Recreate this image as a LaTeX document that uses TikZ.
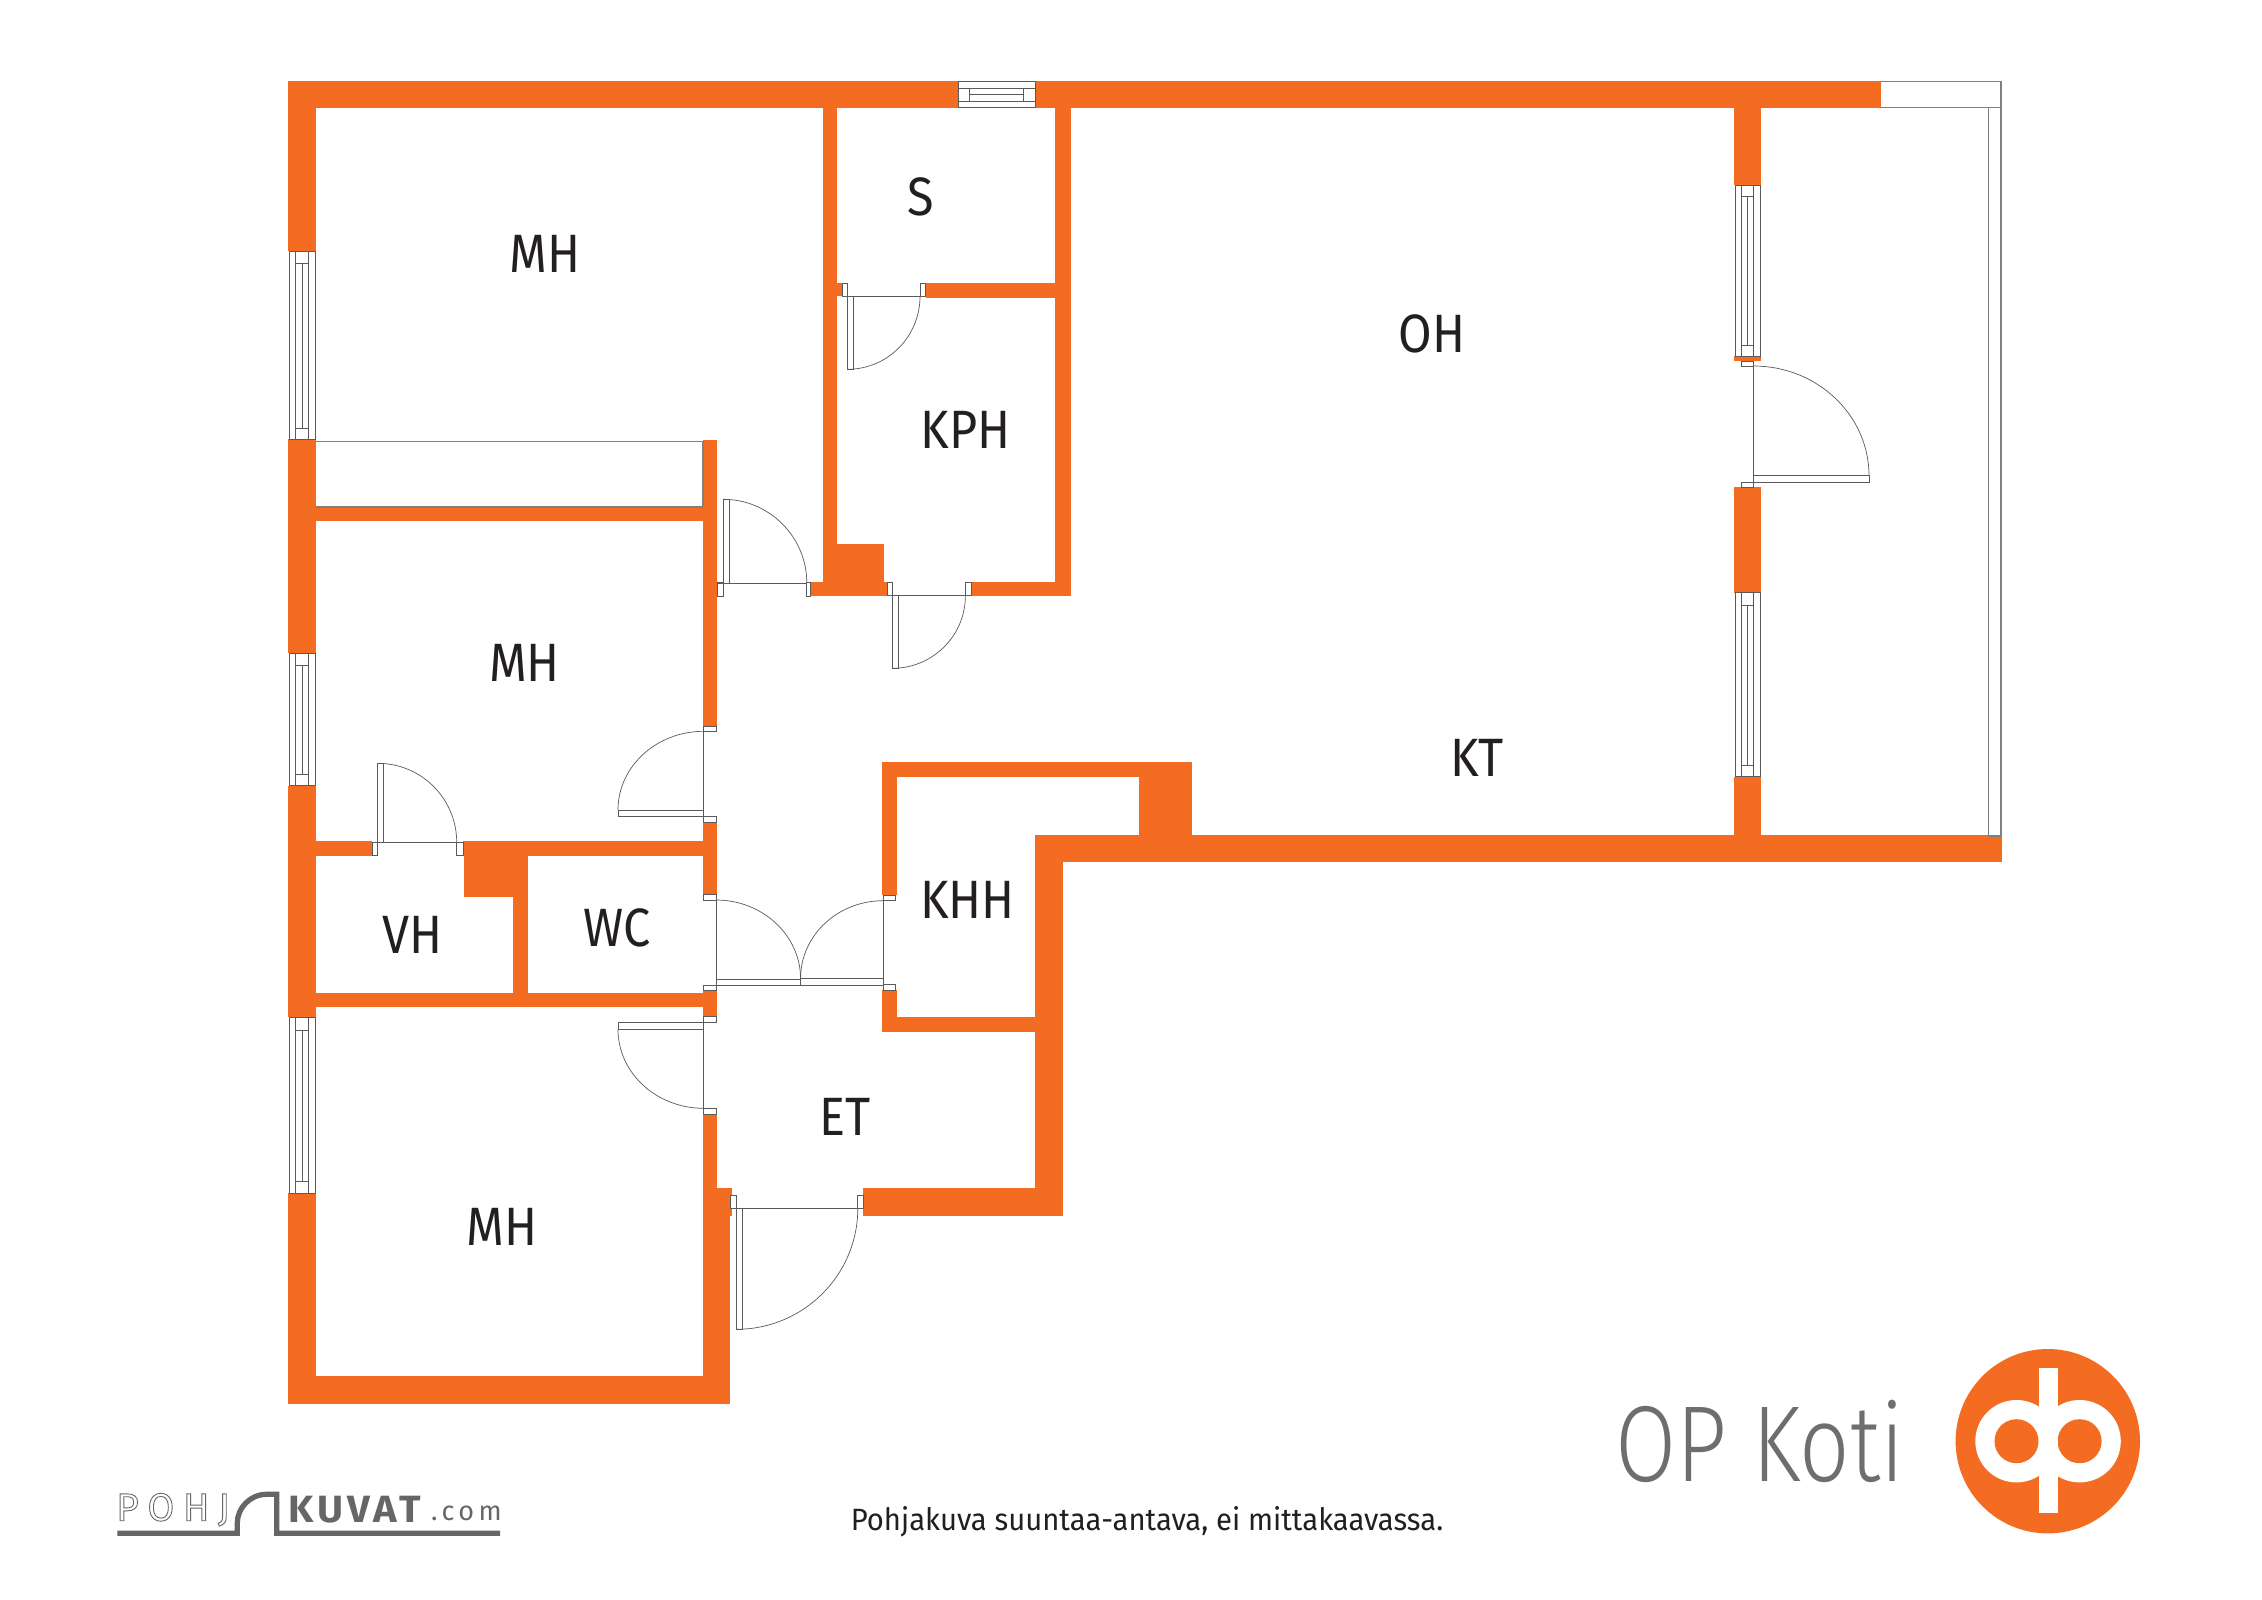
\documentclass[tikz,border=0pt]{standalone}
\usepackage{fontspec}
\usetikzlibrary{calc}
\setmainfont{Fira Sans}
\newfontfamily\labelf[FakeStretch=0.9]{Fira Sans}
\newfontfamily\foot[FakeStretch=0.95]{Fira Sans}
\newfontfamily\opf[FakeStretch=0.82]{Fira Sans Light}
\newfontfamily\pkb{Fira Sans}[FakeStretch=1.05]
\definecolor{wallorange}{HTML}{F36C21}
\definecolor{linegray}{HTML}{5A5A5A}
\definecolor{railgray}{HTML}{808080}
\definecolor{inkdark}{HTML}{231F20}
\definecolor{logogray}{HTML}{6D6E70}
\definecolor{pkgray}{HTML}{666666}
\tikzset{
  wallpart/.style={fill=wallorange,draw=none},
  fineline/.style={draw=linegray,line width=0.7pt},
  framebox/.style={draw=linegray,line width=0.7pt,fill=white},
  railline/.style={draw=railgray,line width=1.1pt},
  roomlabel/.style={text=inkdark,inner sep=0pt,font=\labelf\fontsize{54}{54}\selectfont},
}
\newcommand{\wallrect}[4]{\fill[wallpart] (#1,#2) rectangle (#3,#4);}
\newcommand{\framerect}[4]{\path[framebox] (#1,#2) rectangle (#3,#4);}
\newcommand{\fineseg}[4]{\draw[fineline] (#1,#2) -- (#3,#4);}
% swing arc from a to b, with corner c
\newcommand{\swing}[6]{\draw[fineline] (#1,#2) .. controls ($(#1,#2)!0.5523!(#5,#6)$) and ($(#3,#4)!0.5523!(#5,#6)$) .. (#3,#4);}
% vertical window: x1 x2 y1 y2 inner x1, inner x2, mid, yi1, yi2
\newcommand{\vwin}[9]{\path[framebox] (#1,#3) rectangle (#2,#4);
  \draw[fineline] (#5,#3) -- (#5,#4) (#6,#3) -- (#6,#4) (#7,#8) -- (#7,#9) (#5,#8) -- (#6,#8) (#5,#9) -- (#6,#9);}
\begin{document}
\begin{tikzpicture}[x=1pt,y=-1pt]
\useasboundingbox (0,0) rectangle (2262,1600);
\fill[white] (0,0) rectangle (2262,1600);

% ---- outer and inner walls
\wallrect{288}{80.7}{958}{108.2}
\wallrect{1035}{80.7}{1881}{108.2}
\wallrect{288}{80.7}{316}{251}
\wallrect{288}{439.3}{316}{653.3}
\wallrect{288}{785.7}{316}{1017.3}
\wallrect{288}{1193.3}{316}{1404}
\wallrect{288}{1375.7}{730.2}{1404}
\wallrect{702.7}{1188.3}{730.2}{1404}
\wallrect{730}{1188.3}{731.7}{1216}
\wallrect{702.7}{1114}{717}{1190}
% MH/S wall, lump
\wallrect{822.6}{108}{837.3}{283}
\wallrect{822.6}{283}{842}{296.4}
\wallrect{822.6}{296}{837.3}{590}
\wallrect{822.6}{544}{883.8}{590}
\wallrect{810.8}{582}{887.3}{596.4}
\wallrect{971}{582}{1071}{596.4}
\wallrect{1055}{108}{1071}{596.4}
\wallrect{925.6}{282.5}{1060}{297.5}
% corridor wall
\wallrect{702.7}{440.4}{717}{726}
\wallrect{702.7}{822}{717}{894.7}
\wallrect{702.7}{990.7}{717}{1016.7}
% closet bottom wall
\wallrect{316}{507}{703}{521.4}
% MH / VH wall
\wallrect{316}{841}{372}{856.3}
\wallrect{462.9}{841}{703}{856.3}
\wallrect{463.9}{856}{528}{896.7}
\wallrect{512.9}{856}{528}{993}
\wallrect{316}{992.7}{703}{1007.3}
% KHH
\wallrect{882}{761.7}{1192.3}{776.7}
\wallrect{882}{761.7}{896.5}{894.7}
\wallrect{882}{990}{896.5}{1031.7}
\wallrect{882}{1016.7}{1040}{1031.7}
\wallrect{1035.3}{835}{1063.4}{1216}
\wallrect{862.9}{1188.3}{1063.4}{1216}
\wallrect{1035.3}{835}{2002}{862.3}
\wallrect{1139}{761.7}{1192.3}{836}
% living-room east wall
\wallrect{1733.7}{81}{1761.3}{185}
\wallrect{1733.7}{356}{1761.3}{361}
\wallrect{1733.7}{487.3}{1761.3}{592.7}
\wallrect{1733.7}{776.7}{1761.3}{836}

% ---- windows
\vwin{289}{315}{251}{439.3}{295.5}{308.3}{301.9}{262.9}{427.9}
\vwin{289}{315}{653.3}{785.7}{295.5}{308.3}{301.9}{665.7}{774}
\vwin{289}{315}{1017.3}{1193.3}{295.5}{308.3}{301.9}{1030}{1181.7}
\vwin{1735}{1760}{185}{356}{1741.5}{1753.5}{1747.5}{196.7}{345}
\vwin{1735}{1760}{592.7}{776.7}{1741.5}{1753.5}{1747.5}{605}{765}
% top window
\path[framebox] (958,81.5) rectangle (1035,107.5);
\draw[fineline] (958,88.6) -- (1035,88.6) (958,101) -- (1035,101) (969,94) -- (1023,94) (969,88.6) -- (969,101) (1023,88.6) -- (1023,101);

% ---- closet and balcony outlines
\draw[draw=railgray,line width=1.2pt] (316,441.4) -- (703,441.4) (316,507) -- (703,507) (703,441.4) -- (703,507);
\draw[railline] (1881,81.7) -- (2001,81.7) -- (2001,107.3) -- (1881,107.3);
\draw[railline] (1988.5,107.3) -- (1988.5,836) -- (2001,836) -- (2001,107.3);

% ---- doors
% S / KPH
\framerect{842}{283}{847.5}{296.4}
\framerect{920}{283}{925.6}{296.4}
\fineseg{842}{296.4}{925.6}{296.4}
\framerect{847.5}{296.4}{853.7}{369.3}
\swing{847.5}{369.3}{920}{296.4}{920}{369.3}
% MH 1
\framerect{717}{582}{723}{596.4}
\framerect{806.8}{582}{810.8}{596.4}
\fineseg{717}{583}{806.8}{583}
\framerect{723}{499.3}{729}{583}
\swing{723}{499.3}{806.8}{583}{806.8}{499.3}
% KPH
\framerect{887.3}{582}{892.4}{595.7}
\framerect{965.4}{582}{971}{595.7}
\fineseg{887.3}{595.7}{971}{595.7}
\framerect{892.4}{595.7}{898.6}{668.3}
\swing{892.4}{668.3}{965.4}{595.7}{965.4}{668.3}
% MH 2
\framerect{703.7}{726}{716}{731.3}
\framerect{703.7}{816.7}{716}{822}
\fineseg{703.7}{731.3}{703.7}{816.7}
\framerect{618}{810}{703.7}{816.7}
\swing{618}{810}{703.7}{731.3}{618}{731.3}
% VH
\framerect{372}{842.3}{377.7}{855.7}
\framerect{456.7}{842.3}{462.9}{855.7}
\fineseg{372}{842.3}{462.9}{842.3}
\framerect{377.7}{763.3}{383.8}{842.3}
\swing{377.7}{763.3}{456.7}{842.3}{456.7}{763.3}
% double doors
\framerect{703.7}{894.7}{716}{900}
\framerect{703.7}{985}{716}{990.7}
\fineseg{716}{900}{716}{985}
\framerect{716}{979}{800.6}{985.7}
\swing{716}{900}{800.6}{979}{800.6}{900}
\framerect{883.3}{895.3}{895.5}{900.7}
\framerect{883.3}{984.3}{895.5}{990}
\fineseg{883.3}{900.7}{883.3}{985}
\framerect{800.6}{978.3}{883.3}{985}
\swing{883.3}{900.7}{800.6}{978.3}{800.6}{900.7}
% MH 3
\framerect{703.7}{1016.7}{716}{1022.3}
\framerect{703.7}{1108.3}{716}{1114}
\fineseg{703.7}{1022.3}{703.7}{1108.3}
\framerect{618}{1022.3}{703.7}{1029.3}
\swing{618}{1029.3}{703.7}{1108.3}{618}{1108.3}
% entrance
\framerect{730.2}{1195.7}{736.3}{1208.3}
\framerect{857.8}{1195.7}{862.9}{1208.3}
\fineseg{730.2}{1208.3}{862.9}{1208.3}
\framerect{736.3}{1208.3}{742.4}{1329.3}
\swing{736.3}{1329.3}{857.8}{1208.3}{857.8}{1329.3}
% balcony
\framerect{1741.5}{361}{1753.5}{366}
\framerect{1741.5}{482.3}{1753.5}{487.3}
\fineseg{1753.5}{366}{1753.5}{475.7}
\framerect{1753.5}{475.7}{1869}{482.3}
\swing{1753.5}{366}{1869}{475.7}{1869}{366}

% ---- room labels
\node[roomlabel] (mha) at (545,254) {MH};
\node[roomlabel] (ss) at (921,197) {S};
\node[roomlabel] (kph) at (965.5,430) {KPH};
\node[roomlabel] (mhb) at (524.5,662.5) {MH};
\node[roomlabel] (vh) at (412.5,935) {VH};
\node[roomlabel] (wc) at (617.5,928) {WC};
\node[roomlabel] (khh) at (967.5,900) {KHH};
\node[roomlabel] (mhc) at (502,1227) {MH};
\node[roomlabel] (et) at (845,1117) {ET};
\node[roomlabel] (oh) at (1432,334) {OH};
\node[roomlabel] (kt) at (1477,758) {KT};

% ---- footer
\node[text=inkdark,inner sep=0pt,font=\foot\fontsize{30.8}{31}\selectfont] (note) at (1147,1522) {Pohjakuva suuntaa-antava, ei mittakaavassa.};
\node[text=logogray,inner sep=0pt,font=\opf\fontsize{108}{108}\selectfont] (opkoti) at (1760,1441) {OP Koti};

% ---- OP symbol
\fill[wallorange] (2047.8,1441.2) circle (92.2);
\fill[white] (2016.5,1441.2) circle (41.2) (2079.6,1441.2) circle (41.2);
\fill[wallorange] (2016.5,1441.2) circle (22) (2079.6,1441.2) circle (22);
\fill[white] (2038.5,1368.3) rectangle (2057.6,1513.3);

% ---- pohjakuvat logo
\draw[pkgray,line width=5.3pt] (117.3,1533.3) -- (237.3,1533.3) -- (237.3,1523) .. controls (237.3,1508) and (250,1494.3) .. (266.7,1494.3) -- (276.7,1494.3) -- (276.7,1533.3) -- (500,1533.3);
\node[anchor=west,inner sep=0pt,text=pkgray,font=\fontsize{39}{39}\selectfont] (pohj) at (116,1509.7) {\addfontfeature{LetterSpace=22}\special{pdf:code 1 Tr 0.9 w 0.4 G}POHJ\special{pdf:code 0 Tr 1 w 0 G}};
\node[anchor=west,inner sep=0pt,text=pkgray,font=\pkb\bfseries\fontsize{38}{38}\selectfont] (kuvat) at (288,1509.7) {\addfontfeature{LetterSpace=11}KUVAT};
\node[anchor=west,inner sep=0pt,text=pkgray,font=\fontsize{27}{27}\selectfont] (com) at (431,1513) {\addfontfeature{LetterSpace=16}.com};
\end{tikzpicture}
\end{document}
